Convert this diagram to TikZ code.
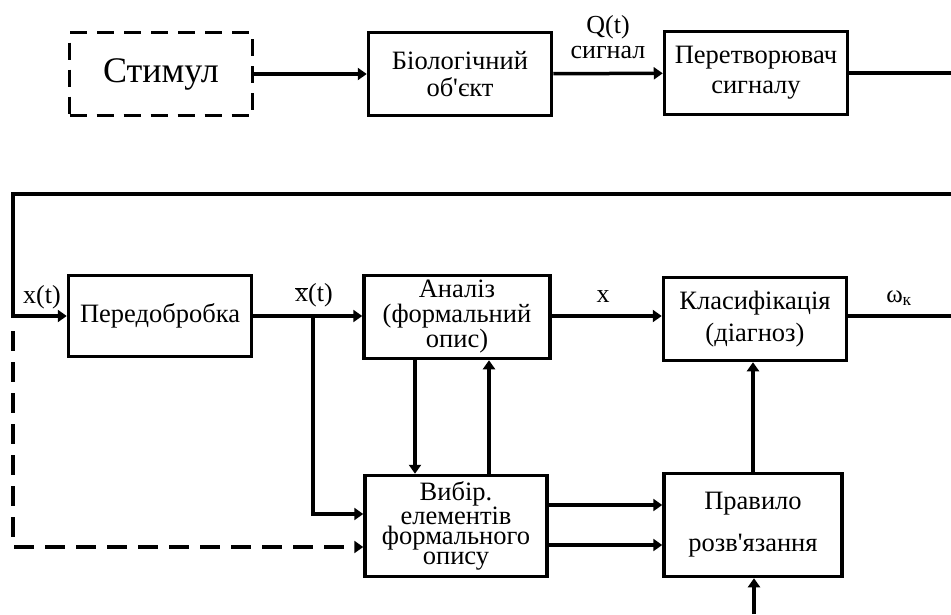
\documentclass[tikz,border=0pt]{standalone}
\usepackage{fontspec}
\setmainfont{Liberation Serif}
\usetikzlibrary{arrows.meta,positioning,calc}

\begin{document}
\begin{tikzpicture}[x=1pt, y=-1pt,
  blk/.style={draw, line width=3.5pt, align=center, inner sep=0pt,
              minimum width=183pt, minimum height=83pt, font=\fontsize{26.5}{28}\selectfont},
  stimbox/.style={blk, dash pattern=on 17pt off 10pt},
  arr/.style={-{Triangle[length=9pt,width=12pt]}, line width=3.5pt},
  ln/.style={line width=3.5pt},
  lbl/.style={inner sep=0pt, align=center, font=\fontsize{26}{25}\selectfont}
]
\useasboundingbox (0,0) rectangle (951,614);

% blocks
\node[stimbox] (stim) at (161,74) {\fontsize{36}{36}\selectfont Стимул};
\node[blk, font=\fontsize{26.5}{27}\selectfont] (bio) at (460,74) {Біологічний\\об\textquotesingle єкт};
\node[blk, font=\fontsize{26.5}{30}\selectfont] (conv) at (756,73) {Перетворювач\\сигналу};
\node[blk, minimum height=81pt] (pre) at (160,316) {Передобробка};
\node[blk, minimum width=186pt, font=\fontsize{26.5}{25}\selectfont] (anal) at (457,317) {Аналіз\\(формальний\\опис)};
\node[blk, font=\fontsize{26.5}{32}\selectfont] (clas) at (755,319) {Класифікація\\(діагноз)};
\node[blk, minimum width=182pt, minimum height=101pt, font=\fontsize{26.5}{20}\selectfont] (vyb) at (456,526) {Вибір.\\елементів\\формального\\опису};
\node[blk, minimum width=178pt, minimum height=103pt, font=\fontsize{26.5}{42}\selectfont] (rule) at (753,525) {Правило\\розв\textquotesingle язання};

% signal labels
\node[lbl] (qlab) at (608,37) {Q(t)\\сигнал};
\node[lbl] (xlab) at (42,297) {x(t)};
\node[lbl] (xbar) at (314,295) {$\overline{\hbox{x}}$(t)};
\node[lbl] (xout) at (603,297) {x};
\node[lbl, font=\fontsize{25}{25}\selectfont] (wlab) at (899,298) {ω\textsubscript{к}};

% free ends
\coordinate (r1) at (951,73);
\coordinate (r2) at (951,194);
\coordinate (lt) at (13,194);
\coordinate (r3) at (951,316);
\coordinate (br) at (313,316);
\coordinate (d1) at (13,331);
\coordinate (r4) at (754,614);

% connectors
\draw[arr] (stim) -- (bio);
\draw[arr] (bio) -- (conv);
\draw[ln] (conv) -- (r1);
\draw[arr] (r2) -- (lt) |- (pre);
\draw[arr] (pre.east) -- (pre.east -| anal.west);
\draw[arr] (br) |- ([yshift=12pt]vyb.west);
\draw[arr, dash pattern=on 20pt off 11pt] (d1) |- ([yshift=-21pt]vyb.west);
\draw[arr] (anal.east |- pre.east) -- (pre.east -| clas.west);
\draw[ln] (clas.east |- r3) -- (r3);
\draw[arr] ([xshift=-42pt]anal.south) -- ([xshift=-42pt]anal.south |- vyb.north);
\draw[arr] ([xshift=33pt]vyb.north) -- ([xshift=33pt]vyb.north |- anal.south);
\draw[arr] ([yshift=21pt]vyb.east) -- ([yshift=21pt]vyb.east -| rule.west);
\draw[arr] ([yshift=-19pt]vyb.east) -- ([yshift=-19pt]vyb.east -| rule.west);
\draw[arr] (rule.north) -- (rule.north |- clas.south);
\draw[arr] (r4) -- (r4 |- rule.south);
\end{tikzpicture}
\end{document}
